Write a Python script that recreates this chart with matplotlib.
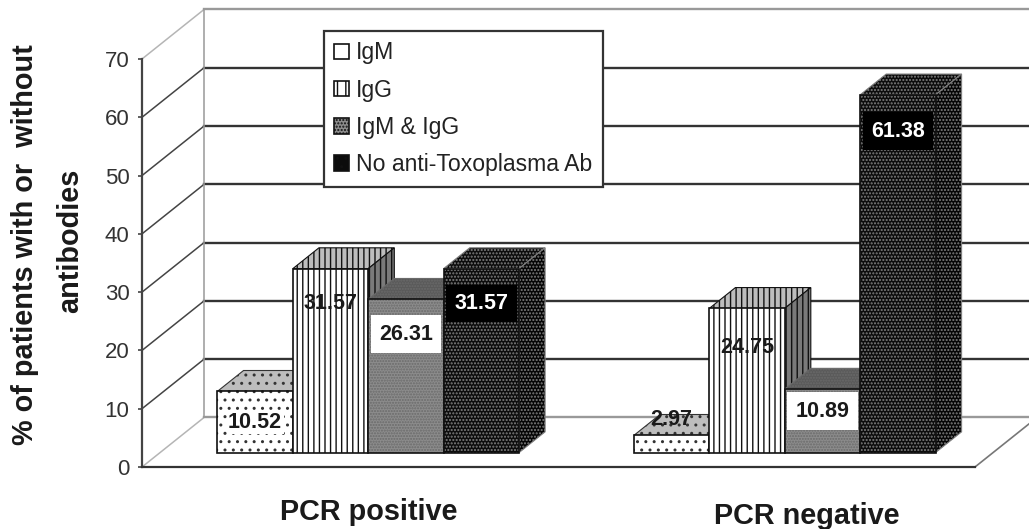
import numpy as np
import matplotlib
matplotlib.use('Agg')
import matplotlib.pyplot as plt
from matplotlib.patches import Patch
from matplotlib.transforms import ScaledTranslation

plt.rcParams['font.family'] = ['Liberation Sans', 'DejaVu Sans']
plt.rcParams['hatch.linewidth'] = 1.0

groups = ['PCR positive', 'PCR negative']
series = ['IgM', 'IgG', 'IgM & IgG', 'No anti-Toxoplasma Ab']
igm = [10.52, 2.97]
igg = [31.57, 24.75]
both = [26.31, 10.89]
none = [31.57, 61.38]
yticks = [0, 10, 20, 30, 40, 50, 60, 70]

# how far each value label sits below the top of its bar (axis units)
label_drop = [[5.3, 6.0, 6.0, 6.0], [-2.8, 6.7, 3.8, 6.2]]

W, H = 1029, 529
fig = plt.figure(figsize=(W / 100, H / 100), dpi=100, facecolor='white')
ax = fig.add_axes([142 / W, 1 - 467 / H, (975 - 142) / W, (467 - 59) / H])
ax.set_xlim(-0.5, 1.5)
ax.set_ylim(0, 70)
ax.patch.set_alpha(0)

# oblique projection for the fake 3D look
depth_x = 0.149
depth_y = 8.5
bar_front = 0.29
bar_back = 0.71
bar_w = 0.181


def shift(d):
    return depth_x * d, depth_y * d


# walls and floor
for v in yticks:
    edge = v in (0, 70)
    ax.plot([-0.5, -0.5 + depth_x], [v, v + depth_y], color='#b5b5b5' if edge else '#444444',
            lw=1.1, clip_on=False, zorder=1)
    ax.plot([-0.5 + depth_x, 1.5 + depth_x], [v + depth_y, v + depth_y], color='#999999' if edge else '#333333',
            lw=1.7, clip_on=False, zorder=1)
ax.plot([-0.5 + depth_x, -0.5 + depth_x], [depth_y, 70 + depth_y], color='#999999', lw=1.1, clip_on=False, zorder=1)
ax.plot([1.5, 1.5 + depth_x], [0, depth_y], color='#777777', lw=1.2, clip_on=False, zorder=1)

styles = [
    dict(face='white', top='#bdbdbd', side='#bdbdbd', hatch='..', hc='#333333'),
    dict(face='white', top='#bdbdbd', side='#7a7a7a', hatch='|||', hc='#111111'),
    dict(face='#8c8c8c', top='#5a5a5a', side='#5a5a5a', hatch='......', hc='#6a6a6a'),
    dict(face='#0c0c0c', top='#0c0c0c', side='#050505', hatch='.....', hc='#7f7f7f'),
]
values = [igm, igg, both, none]

fx, fy = shift(bar_front)
bx, by = shift(bar_back)
for g in range(len(groups)):
    for i, vals in enumerate(values):
        st = styles[i]
        x0 = g + (i - 2) * bar_w + fx
        x1 = x0 + bar_w
        ytop = vals[g] + fy
        z = 3 + g * 10 + i
        ax.fill([x0, x1, x1 + bx - fx, x0 + bx - fx], [ytop, ytop, ytop + by - fy, ytop + by - fy],
                facecolor=st['top'], edgecolor=st['hc'], hatch=st['hatch'], lw=0.8, clip_on=False, zorder=z)
        ax.fill([x1, x1 + bx - fx, x1 + bx - fx, x1], [fy, by, ytop + by - fy, ytop],
                facecolor=st['side'], edgecolor=st['hc'], hatch=st['hatch'], lw=0.8, clip_on=False, zorder=z)
        ax.bar(x0, vals[g], bar_w, bottom=fy, align='edge', facecolor=st['face'], edgecolor=st['hc'],
               hatch=st['hatch'], lw=0, clip_on=False, zorder=z)
        ax.bar(x0, vals[g], bar_w, bottom=fy, align='edge', facecolor='none', edgecolor='#111111',
               lw=1.2, clip_on=False, zorder=z)
        lx = x0 + bar_w / 2
        ly = ytop - label_drop[g][i]
        box = None
        txt_col = '#1a1a1a'
        if i == 3:
            box = dict(facecolor='black', edgecolor='none', pad=6)
            txt_col = 'white'
        elif i == 2:
            box = dict(facecolor='white', edgecolor='none', pad=6)
        elif i == 0 and g == 0:
            box = dict(facecolor='white', edgecolor='none', pad=1)
        ax.text(lx, ly, f'{vals[g]:.2f}', color=txt_col, ha='center', va='center', fontsize=15.5,
                weight='bold', bbox=box, zorder=40)

# axes
for s in ['top', 'right']:
    ax.spines[s].set_visible(False)
ax.spines['left'].set_color('#444444')
ax.spines['left'].set_linewidth(1.6)
ax.spines['bottom'].set_color('#333333')
ax.spines['bottom'].set_linewidth(1.6)
ax.set_yticks(yticks)
ax.tick_params(axis='y', length=3, width=1.2, color='#444444', pad=6, labelsize=16, labelcolor='#333333')

ax.set_xticks([0.045, 1.096])
ax.set_xticklabels(groups, fontsize=20.8, weight='bold', color='#1a1a1a')
ax.tick_params(axis='x', length=0, pad=22)
down = ScaledTranslation(0, -3 / 72, fig.dpi_scale_trans)
ax.get_xticklabels()[1].set_transform(ax.get_xticklabels()[1].get_transform() + down)

fig.text(25 / W, 1 - 245 / H, '% of patients with or  without', rotation=90, ha='center', va='center',
         fontsize=20.8, weight='bold', color='#1a1a1a')
fig.text(70 / W, 1 - 241 / H, 'antibodies', rotation=90, ha='center', va='center',
         fontsize=20.8, weight='bold', color='#1a1a1a')

handle_hatch = ['', '||', '.....', '..']
handles = [Patch(facecolor=s['face'], edgecolor='#111111', hatch=handle_hatch[i], lw=1.2)
           for i, s in enumerate(styles)]
leg = fig.legend(handles, series, loc='upper left', bbox_to_anchor=(324 / W, 1 - 31 / H), borderaxespad=0,
                 fontsize=16.6, frameon=True, fancybox=False, framealpha=1, edgecolor='#333333',
                 handlelength=0.65, handleheight=0.65, handletextpad=0.3, labelspacing=0.62, borderpad=0.45,
                 labelcolor='#222222')
leg.get_frame().set_linewidth(1.6)
leg.set_zorder(50)

fig.savefig('out.png', dpi=100)
